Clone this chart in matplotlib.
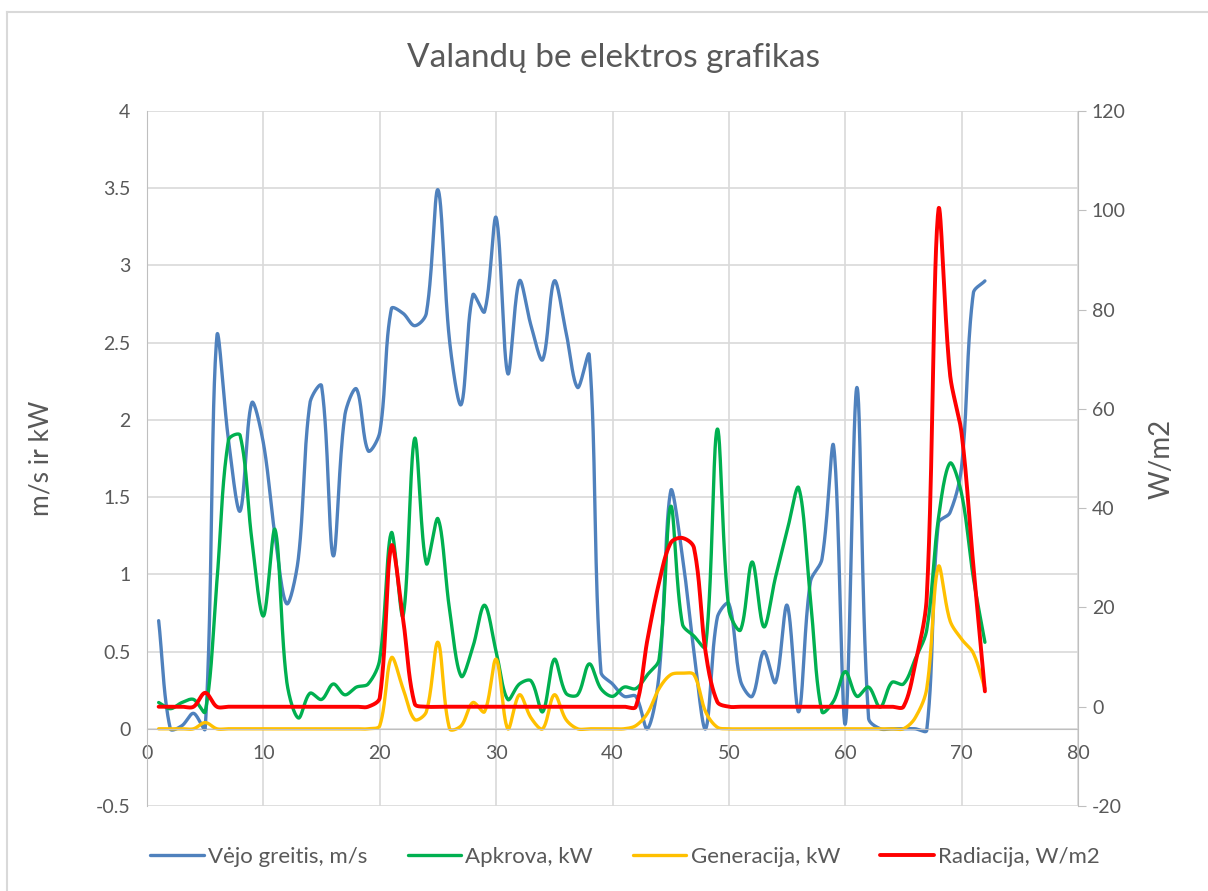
import numpy as np
import matplotlib
matplotlib.use('Agg')
import matplotlib.pyplot as plt

plt.rcParams['font.family'] = ['Lato', 'DejaVu Sans']
plt.rcParams['axes.unicode_minus'] = False

# data (hours 1..72)
hours = list(range(1, 73))
wind = [0.70, 0.00, 0.02, 0.10, 0.00, 2.54, 1.87, 1.41, 2.11, 1.85,
        1.25, 0.81, 1.10, 2.11, 2.22, 1.12, 2.03, 2.20, 1.80, 1.92,
        2.72, 2.69, 2.61, 2.69, 3.49, 2.51, 2.10, 2.81, 2.70, 3.31,
        2.30, 2.90, 2.61, 2.39, 2.90, 2.57, 2.21, 2.42, 0.37, 0.29,
        0.21, 0.21, 0.00, 0.35, 1.54, 1.12, 0.50, 0.00, 0.72, 0.81,
        0.31, 0.21, 0.50, 0.30, 0.80, 0.11, 0.95, 1.10, 1.83, 0.03,
        2.21, 0.07, 0.00, 0.00, 0.00, 0.00, -0.01, 1.33, 1.40, 1.70,
        2.82, 2.90]
load = [0.17, 0.13, 0.17, 0.19, 0.11, 0.95, 1.87, 1.90, 1.23, 0.73,
        1.29, 0.31, 0.07, 0.23, 0.19, 0.29, 0.22, 0.27, 0.29, 0.45,
        1.27, 0.73, 1.88, 1.07, 1.36, 0.77, 0.34, 0.53, 0.80, 0.50,
        0.19, 0.29, 0.31, 0.11, 0.45, 0.23, 0.22, 0.42, 0.26, 0.21,
        0.27, 0.26, 0.35, 0.45, 1.44, 0.68, 0.60, 0.53, 1.94, 0.77,
        0.64, 1.08, 0.66, 0.98, 1.28, 1.56, 0.85, 0.11, 0.18, 0.37,
        0.21, 0.27, 0.14, 0.30, 0.29, 0.45, 0.64, 1.36, 1.72, 1.52,
        0.98, 0.56]
gen = [0, 0, 0, 0, 0.04, 0, 0, 0, 0, 0,
       0, 0, 0, 0, 0, 0, 0, 0, 0, 0.02,
       0.46, 0.26, 0.06, 0.11, 0.56, 0.0, 0.02, 0.17, 0.11, 0.45,
       0.0, 0.22, 0.07, 0.0, 0.22, 0.06, 0.0, 0, 0, 0,
       0, 0.02, 0.10, 0.26, 0.35, 0.36, 0.35, 0.11, 0.01, 0,
       0, 0, 0, 0, 0, 0, 0, 0, 0, 0,
       0, 0, 0, 0, 0, 0.07, 0.26, 1.05, 0.70, 0.58,
       0.49, 0.26]
rad = [0, 0, 0, 0, 2.8, 0, 0, 0, 0, 0,
       0, 0, 0, 0, 0, 0, 0, 0, 0, 1.8,
       32.4, 17.7, 0.6, 0, 0, 0, 0, 0, 0, 0,
       0, 0, 0, 0, 0, 0, 0, 0, 0, 0,
       0, 0, 13.5, 25, 33, 34, 32, 11, 1, 0,
       0, 0, 0, 0, 0, 0, 0, 0, 0, 0,
       0, 0, 0, 0, 0, 8.5, 22, 100, 67, 55,
       28.6, 3.1]

labels = ['Vėjo greitis, m/s', 'Apkrova, kW', 'Generacija, kW', 'Radiacija, W/m2']
colors = ['#4F81BD', '#00B050', '#FFC000', '#FF0000']
gray = '#595959'


# Excel-like smoothed line: bezier with tangents split by segment length (screen space)
def smooth(x, y, kx, ky, n=30):
    x = np.asarray(x, float)
    y = np.asarray(y, float)
    P = np.column_stack([x * kx, y * ky])
    m = len(P)
    d = np.hypot(*np.diff(P, axis=0).T)
    cout = np.zeros_like(P)
    cin = np.zeros_like(P)
    cout[0] = P[0] + (P[1] - P[0]) / 3
    cin[-1] = P[-1] - (P[-1] - P[-2]) / 3
    for i in range(1, m - 1):
        tan = P[i + 1] - P[i - 1]
        s = d[i - 1] + d[i]
        cin[i] = P[i] - tan * d[i - 1] / s / 3
        cout[i] = P[i] + tan * d[i] / s / 3
    t = np.linspace(0, 1, n, endpoint=False)[:, None]
    pts = []
    for i in range(m - 1):
        b = (1 - t) ** 3 * P[i] + 3 * (1 - t) ** 2 * t * cout[i] \
            + 3 * (1 - t) * t ** 2 * cin[i + 1] + t ** 3 * P[i + 1]
        pts.append(b)
    pts.append(P[-1:])
    pts = np.vstack(pts)
    return pts[:, 0] / kx, pts[:, 1] / ky


fig = plt.figure(figsize=(12.08, 8.91), dpi=100)
ax = fig.add_axes([0.1217, 0.0954, 0.7707, 0.78])
ax2 = ax.twinx()

kx = 931 / 80.0
lines = []
for data, c, lab in zip([wind, load, gen], colors[:3], labels[:3]):
    sx, sy = smooth(hours, data, kx, 695 / 4.5)
    ln, = ax.plot(sx, sy, color=c, lw=2.4, label=lab, solid_capstyle='round')
    lines.append(ln)
sx, sy = smooth(hours, rad, kx, 695 / 140.0)
ln, = ax2.plot(sx, sy, color=colors[3], lw=2.8, label=labels[3], solid_capstyle='round')
lines.append(ln)

ax.set_xlim(0, 80)
ax.set_ylim(-0.5, 4)
ax2.set_ylim(-20, 120)
ax.set_xticks(range(0, 81, 10))
ax.set_yticks(np.arange(-0.5, 4.01, 0.5))
ax.set_yticklabels(['-0.5', '0', '0.5', '1', '1.5', '2', '2.5', '3', '3.5', '4'])
ax2.set_yticks(range(-20, 121, 20))

ax.grid(True, color='#D9D9D9', lw=1.2)
ax.set_axisbelow(True)
for a in (ax, ax2):
    a.spines['top'].set_visible(False)
    a.tick_params(length=0, colors=gray, labelsize=14)
ax.spines['bottom'].set_position(('data', 0))
ax.spines['bottom'].set_color('#BFBFBF')
ax.spines['left'].set_color('#BFBFBF')
ax.spines['right'].set_visible(False)
ax2.spines['left'].set_visible(False)
ax2.spines['bottom'].set_visible(False)
ax2.spines['right'].set_color('#BFBFBF')
ax.tick_params(axis='x', pad=12)
ax.tick_params(axis='y', pad=12)
ax2.tick_params(axis='y', length=6, color='#BFBFBF', pad=4)

ax.set_ylabel('m/s ir kW', color=gray, fontsize=19, labelpad=30)
ax2.set_ylabel('W/m2', color=gray, fontsize=20, labelpad=16)
fig.text(0.508, 0.935, 'Valandų be elektros grafikas', ha='center', va='center',
         color=gray, fontsize=24)

fig.legend(handles=lines, labels=labels, loc='center left', bbox_to_anchor=(0.108, 0.038),
           ncol=4, frameon=False, fontsize=16, handlelength=2.4, columnspacing=1.8,
           handletextpad=0.2, labelcolor=gray)

fig.add_artist(plt.Line2D([7 / 1208, 7 / 1208], [0, 1 - 12 / 891], color='#D9D9D9', lw=1.5))
fig.add_artist(plt.Line2D([7 / 1208, 1], [1 - 12 / 891, 1 - 12 / 891], color='#D9D9D9', lw=1.5))

fig.savefig('out.png', dpi=100)
